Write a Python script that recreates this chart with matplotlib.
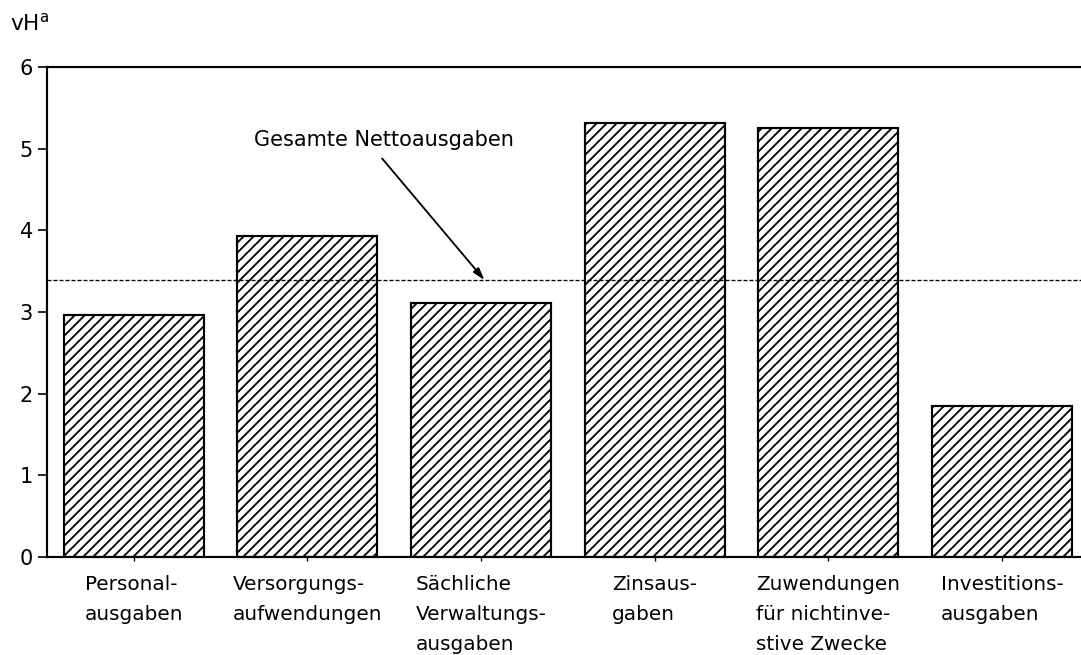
import matplotlib
matplotlib.use("Agg")
import matplotlib.pyplot as plt

categories = ["Personal-\nausgaben", "Versorgungs-\naufwendungen", "Sächliche\nVerwaltungs-\nausgaben",
              "Zinsaus-\ngaben", "Zuwendungen\nfür nichtinve-\nstive Zwecke", "Investitions-\nausgaben"]
values = [2.96, 3.93, 3.11, 5.31, 5.25, 1.85]
total_line = 3.39
yticks = [0, 1, 2, 3, 4, 5, 6]
annotation_text = "Gesamte Nettoausgaben"

plt.rcParams['font.family'] = ['DejaVu Sans']
plt.rcParams['hatch.linewidth'] = 1.1
plt.rcParams['hatch.color'] = 'black'

DPI = 120
fig = plt.figure(figsize=(1081 / DPI, 655 / DPI), dpi=DPI)
ax = fig.add_axes([47 / 1081, 1 - 557 / 655, 1 - 47 / 1081, (557 - 67) / 655])

x = list(range(len(categories)))
ax.bar(x, values, width=0.806, facecolor='white', edgecolor='black', linewidth=1.3, hatch='////', zorder=2)

ax.axhline(total_line, color='black', linewidth=0.8, linestyle=(0, (3, 1.5)), zorder=3)

ax.set_xlim(-0.5, 5.455)
ax.set_ylim(0, 6)
ax.set_yticks(yticks)
ax.set_yticklabels([str(v) for v in yticks], fontsize=12.5)
ax.set_xticks(x)
ax.set_xticklabels(categories, fontsize=12, multialignment='left', linespacing=1.75)

ax.tick_params(axis='y', direction='out', length=5.5, width=1.0, pad=3)
ax.tick_params(axis='x', direction='out', length=2.5, width=0.8, pad=8)

for side in ['top', 'left', 'bottom']:
    ax.spines[side].set_linewidth(1.3)
ax.spines['right'].set_visible(False)

ax.text(1.44, 5.1, annotation_text, fontsize=12.5, ha='center', va='center')
ax.annotate('', xy=(2.02, total_line), xytext=(1.43, 4.88),
            arrowprops=dict(arrowstyle='-|>,head_length=0.6,head_width=0.18', color='black',
                            lw=1.1, shrinkA=0, shrinkB=0))

fig.text(10 / 1081, 1 - 30 / 655, r'vH$^{\mathrm{a}}$', fontsize=13, ha='left', va='baseline')

fig.savefig("out.png", dpi=DPI)
